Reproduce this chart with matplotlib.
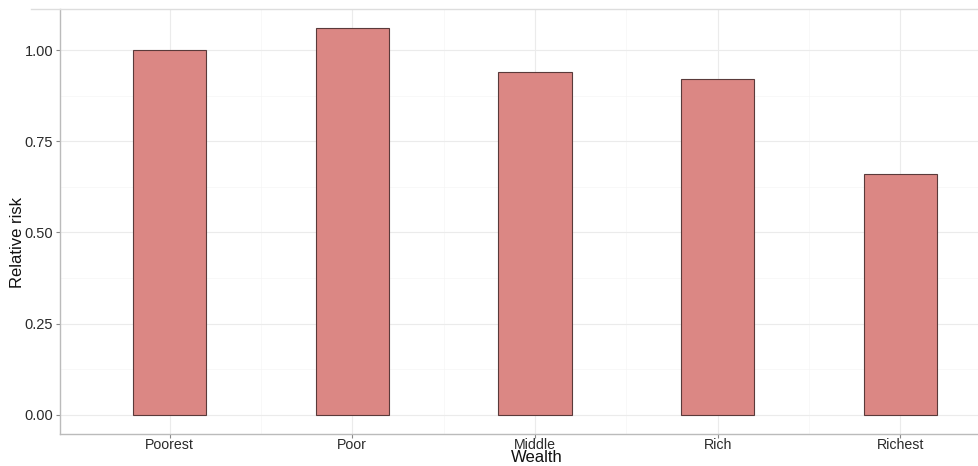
import matplotlib
matplotlib.use("Agg")
import matplotlib.pyplot as plt
from matplotlib.ticker import MultipleLocator

categories = ["Poorest", "Poor", "Middle", "Rich", "Richest"]
relative_risk = [1.00, 1.06, 0.94, 0.92, 0.66]
yticks = [0.00, 0.25, 0.50, 0.75, 1.00]
ytick_labels = ["0.00", "0.25", "0.50", "0.75", "1.00"]

plt.rcParams['font.family'] = ['Liberation Sans', 'DejaVu Sans']

W, H = 979, 466
fig = plt.figure(figsize=(W / 100, H / 100), dpi=100)
# panel: left x=60, right x=1010 (cropped), top y=9, bottom y=434
ax = fig.add_axes([60 / W, (H - 434) / H, (1010 - 60) / W, (434 - 9) / H])

x = list(range(1, len(categories) + 1))
ax.bar(x, relative_risk, width=0.4, color="#DB8784", edgecolor="#5A3A3A",
       linewidth=0.8, zorder=3)

ax.set_xlim(0.4, 5.6)
ax.set_ylim(-0.053, 1.113)
ax.set_xticks(x)
ax.set_xticklabels(categories, fontsize=10.2, color="#2A2A2A")
ax.set_yticks(yticks)
ax.set_yticklabels(ytick_labels, fontsize=10.5, color="#2A2A2A")
ax.yaxis.set_minor_locator(MultipleLocator(0.125))
ax.set_xticks([1.5, 2.5, 3.5, 4.5], minor=True)

ax.grid(True, which="major", color="#EBEBEB", linewidth=0.8, zorder=0)
ax.grid(True, which="minor", color="#F5F5F5", linewidth=0.5, zorder=0)
ax.tick_params(which="major", length=3, color="#888888", width=0.8, pad=2)
ax.tick_params(axis="x", which="major", pad=0.0)
ax.tick_params(which="minor", length=0)

for side in ["top", "right"]:
    ax.spines[side].set_visible(False)
for side in ["left", "bottom"]:
    ax.spines[side].set_color("#BBBBBB")
    ax.spines[side].set_linewidth(1.0)

fig.text(537 / W, (H - 462) / H, "Wealth", fontsize=12, color="#111111",
         ha="center", va="baseline")
fig.text(18 / W, (H - 242) / H, "Relative risk", fontsize=12, color="#111111",
         ha="center", va="center", rotation=90)

# faint top border line seen in the cropped image
fig.add_artist(plt.Line2D([31 / W, 1], [(H - 9) / H, (H - 9) / H],
                          color="#DDDDDD", linewidth=1.0))

fig.savefig("out.png", dpi=100)
